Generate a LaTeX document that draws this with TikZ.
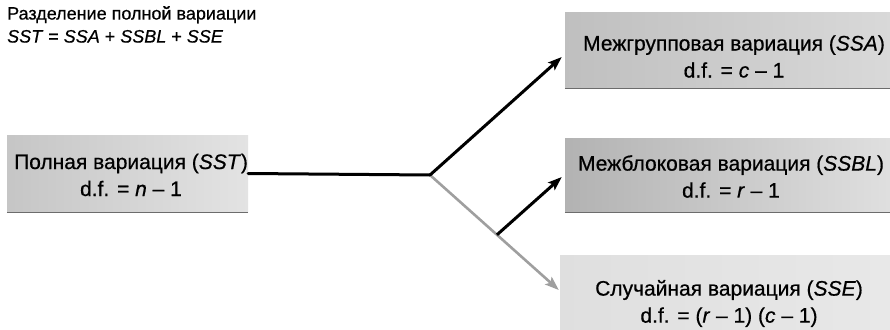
\documentclass[tikz,border=0pt]{standalone}
\usepackage{fontspec}
\setmainfont{Liberation Sans}
\newfontfamily\heavysans[FakeBold=0.6]{Liberation Sans}
\usetikzlibrary{arrows.meta,calc}
\begin{document}
\begin{tikzpicture}[x=1pt,y=-1pt,
  box/.style={inner sep=0pt, left color=gray!45, right color=gray!22, draw=none},
  boxtext/.style={inner sep=0pt, align=center, font=\heavysans\fontsize{21}{27}\selectfont},
  edge/.style={draw=gray!85!black, line width=1.2pt},
  conn/.style={line width=3pt, black},
  arr/.style={conn, -{Stealth[length=14pt,width=10pt,inset=3pt]}},
  grayarr/.style={line width=2.6pt, gray!75, -{Stealth[length=14pt,width=10pt,inset=3pt]}},
  title/.style={inner sep=0pt, align=left, anchor=north west, font=\heavysans\fontsize{18}{23}\selectfont}
]
\useasboundingbox (0,0) rectangle (890,329);
% title
\node[title] (ttl) at (7,6) {Разделение полной вариации\\\textit{SST} = \textit{SSA} + \textit{SSBL} + \textit{SSE}};
% boxes
\node[box, minimum width=241pt, minimum height=77pt] (sst) at (127.5,173.5) {};
\draw[edge] (sst.south west) -- (sst.south east);
\node[boxtext] (sstt) at (131,175) {Полная вариация (\textit{SST})\\d.f. = \textit{n} – 1};

\node[box, minimum width=325pt, minimum height=75pt, left color=gray!50, right color=gray!30] (ssa) at (727.5,50.5) {};
\draw[edge] (ssa.south west) -- (ssa.south east);
\node[boxtext] (ssat) at (734,56.5) {Межгрупповая вариация (\textit{SSA})\\d.f. = \textit{c} – 1};

\node[box, minimum width=325pt, minimum height=74pt, left color=gray!60, right color=gray!25] (ssbl) at (727.5,175) {};
\draw[edge] (ssbl.south west) -- (ssbl.south east);
\node[boxtext] (ssblt) at (731,176.5) {Межблоковая вариация (\textit{SSBL})\\d.f. = \textit{r} – 1};

\node[box, minimum width=330pt, minimum height=74pt, left color=gray!25, right color=gray!18] (sse) at (725,292) {};
\node[boxtext] (sset) at (729,303.5) {Случайная вариация (\textit{SSE})\\d.f. = (\textit{r} – 1) (\textit{c} – 1)};

% connectors
\coordinate (j) at (430,175);
\coordinate (seend) at ([xshift=-1pt,yshift=2pt]sse.west);
\coordinate (b) at ($(j)!0.52!(seend)$);
\draw[grayarr] (j) -- (seend);
\draw[conn, line cap=round] (sst.east) -- (j);
\draw[arr] (j) -- ([xshift=-3pt,yshift=-6.5pt]ssa.west);
\draw[arr] (b) -- ([xshift=-3pt,yshift=-2pt]ssbl.west);
\end{tikzpicture}
\end{document}
